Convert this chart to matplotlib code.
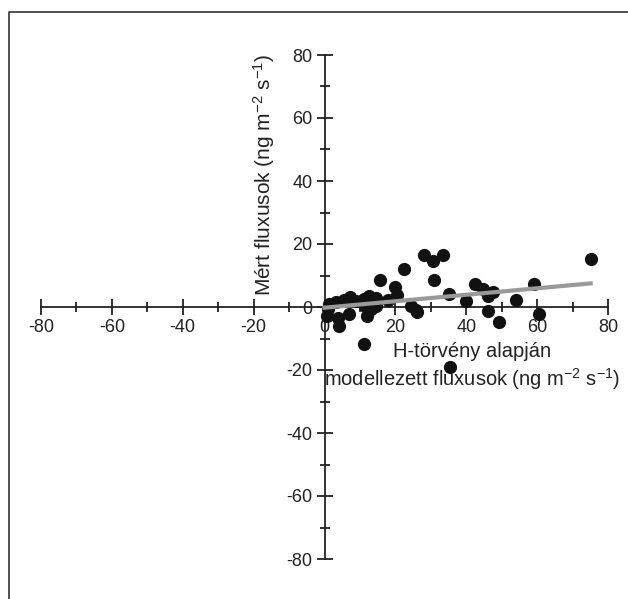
import numpy as np
import matplotlib.pyplot as plt
from matplotlib.lines import Line2D
from matplotlib.ticker import MultipleLocator

plt.rcParams['font.family'] = ['Liberation Sans', 'DejaVu Sans']
plt.rcParams['mathtext.fontset'] = 'custom'
plt.rcParams['mathtext.rm'] = 'Liberation Sans'
plt.rcParams['mathtext.it'] = 'Liberation Sans'

# modelled (H-law) vs measured fluxes, ng m-2 s-1
modelled = [75.1, 28.2, 30.7, 33.5, 22.5, 31.0, 15.6, 19.9, 20.4, 17.9,
            12.6, 14.6, 11.2, 7.3, 5.4, 3.3, 1.2, 0.9, 13.2, 9.0,
            11.3, 6.8, 0.8, 3.8, 4.0, 12.1, 11.1, 35.3, 24.5, 25.9,
            26.2, 35.0, 40.0, 42.6, 44.7, 47.5, 46.1, 46.1, 49.3, 54.0,
            59.1, 60.6, 14.6]
measured = [15.3, 16.6, 14.6, 16.5, 12.2, 8.5, 8.6, 6.4, 3.8, 2.3,
            3.6, 2.9, 2.4, 3.2, 2.3, 1.7, 0.8, -0.7, -0.5, 1.9,
            0.3, -2.3, -2.9, -3.4, -6.0, -3.0, -11.9, -18.9, 0.3, -0.8,
            -1.5, 4.1, 2.0, 7.2, 5.6, 4.7, 3.6, -1.4, -4.8, 2.1,
            7.2, -2.1, 0.3]

x = np.array(modelled)
y = np.array(measured)
slope, icept = np.polyfit(x, y, 1)
xf = np.array([0, x.max()])

fig = plt.figure(figsize=(6.28, 5.99), dpi=100)
ax = fig.add_axes([41 / 628, 40 / 599, 567 / 628, 504 / 599])

ax.scatter(x, y, s=72, color='#111111', zorder=3)
ax.plot(xf, icept + slope * xf, color='#999999', lw=3, zorder=4)

ax.set_xlim(-80, 80)
ax.set_ylim(-80, 80)
ax.spines['left'].set_position(('data', 0))
ax.spines['bottom'].set_position(('data', 0))
ax.spines['right'].set_visible(False)
ax.spines['top'].set_visible(False)
for s in ('left', 'bottom'):
    ax.spines[s].set_linewidth(1.3)
    ax.spines[s].set_color('#222222')

ax.xaxis.set_major_locator(MultipleLocator(20))
ax.xaxis.set_minor_locator(MultipleLocator(10))
ax.yaxis.set_major_locator(MultipleLocator(20))
ax.yaxis.set_minor_locator(MultipleLocator(10))
ax.tick_params(which='major', direction='inout', length=11, width=1.3,
               labelsize=13, color='#222222', labelcolor='#222222', pad=3)
ax.tick_params(which='minor', direction='inout', length=7, width=1.3,
               color='#222222')
ax.xaxis.set_major_formatter(lambda v, p: f'{v:.0f}')
ax.yaxis.set_major_formatter(lambda v, p: f'{v:.0f}')

ax.text(-17, 42, 'Mért fluxusok (ng m$^{-2}$ s$^{-1}$)', rotation=90,
        ha='center', va='center', fontsize=15, color='#222222')
ax.text(41.5, -19, 'H-törvény alapján\nmodellezett fluxusok (ng m$^{-2}$ s$^{-1}$)',
        ha='center', va='center', fontsize=14.5, color='#222222',
        linespacing=1.25)

# frame around the figure (open at right and bottom)
fig.add_artist(Line2D([9 / 628, 9 / 628, 1.0], [0.0, 1 - 12 / 599, 1 - 12 / 599],
                      transform=fig.transFigure, color='#333333', lw=1.2))

fig.savefig('out.png', dpi=100)
